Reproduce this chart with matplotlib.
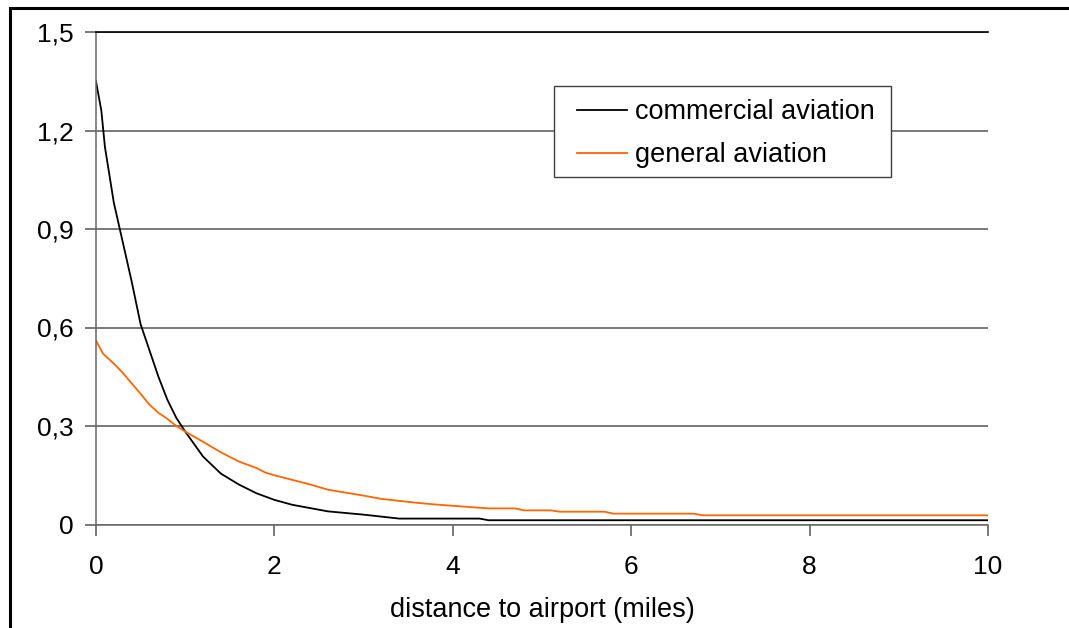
import matplotlib
matplotlib.use('Agg')

import matplotlib.pyplot as plt
from matplotlib.patches import Rectangle
from matplotlib.ticker import FuncFormatter

plt.rcParams['font.family'] = ['Liberation Sans', 'DejaVu Sans']

# --- Data ---
distance_commercial = [0, 0.06, 0.1, 0.2, 0.3, 0.4, 0.5, 0.6, 0.7, 0.8, 0.9, 1.0,
                       1.2, 1.4, 1.6, 1.8, 2.0, 2.2, 2.4, 2.6, 2.8, 3.0, 3.2, 3.4,
                       4.3, 4.4, 10]
commercial = [1.35, 1.26, 1.15, 0.98, 0.86, 0.74, 0.61, 0.53, 0.45, 0.38, 0.325, 0.283,
              0.207, 0.155, 0.122, 0.095, 0.075, 0.060, 0.050, 0.040, 0.035, 0.030, 0.024, 0.018,
              0.018, 0.013, 0.013]

distance_general = [0, 0.08, 0.2, 0.3, 0.4, 0.5, 0.6, 0.7, 0.8, 0.9, 1.0, 1.2,
                    1.4, 1.6, 1.8, 1.9, 2.0, 2.2, 2.4, 2.6, 2.8, 3.0, 3.2, 3.6,
                    3.8, 4.0, 4.4, 4.7, 4.8, 5.1, 5.2, 5.7, 5.8, 6.7, 6.8, 10]
general = [0.56, 0.52, 0.49, 0.462, 0.43, 0.398, 0.365, 0.34, 0.322, 0.30, 0.283, 0.252,
           0.22, 0.192, 0.172, 0.158, 0.150, 0.136, 0.122, 0.106, 0.097, 0.088, 0.078, 0.066,
           0.061, 0.057, 0.049, 0.049, 0.043, 0.043, 0.039, 0.039, 0.033, 0.033, 0.028, 0.028]

x_ticks = [0, 2, 4, 6, 8, 10]
y_ticks = [0, 0.3, 0.6, 0.9, 1.2, 1.5]

# --- Figure ---
W, H = 1069, 628
fig = plt.figure(figsize=(W / 100, H / 100), dpi=100)
ax = fig.add_axes([96 / W, 1 - 524.5 / H, (988 - 96) / W, (524.5 - 32) / H])

ax.plot(distance_commercial, commercial, color='black', lw=1.3, label='commercial aviation')
ax.plot(distance_general, general, color='#FF6600', lw=1.3, label='general aviation')

ax.set_xlim(0, 10)
ax.set_ylim(0, 1.5)
ax.set_xticks(x_ticks)
ax.set_yticks(y_ticks)
ax.yaxis.set_major_formatter(FuncFormatter(lambda v, p: f'{v:g}'.replace('.', ',')))

ax.grid(axis='y', color='#555555', lw=1.1)
ax.set_axisbelow(True)
ax.spines['right'].set_visible(False)
ax.spines['top'].set_color('black')
ax.spines['top'].set_linewidth(1.2)
for side in ['left', 'bottom']:
    ax.spines[side].set_color('#666666')
    ax.spines[side].set_linewidth(1.1)

ax.tick_params(axis='both', direction='out', length=8, width=1.1, color='#555555', labelsize=19)
ax.tick_params(axis='y', pad=8)
ax.tick_params(axis='x', pad=14)

ax.set_xlabel('distance to airport (miles)', fontsize=19.5, labelpad=13)

# legend frame, drawn separately so it can be sized freely
fig.patches.append(Rectangle((554 / W, 1 - 177 / H), 337 / W, 91 / H,
                             transform=fig.transFigure, facecolor='white',
                             edgecolor='#404040', lw=1.0, zorder=1))
handles, labels = ax.get_legend_handles_labels()
fig.legend(handles, labels, loc='upper left', bbox_to_anchor=(577 / W, 1 - 99 / H),
           bbox_transform=fig.transFigure, borderaxespad=0, borderpad=0,
           fontsize=19.5, frameon=False, handlelength=1.85, handletextpad=0.3,
           labelspacing=0.63)

# outer chart border (top and left edges visible)
fig.patches.append(Rectangle((10 / W, -0.1), 1.2, 1 - 7.5 / H + 0.1,
                             transform=fig.transFigure, fill=False,
                             edgecolor='black', lw=2.2, clip_on=False))

fig.savefig('out.png', dpi=100)
